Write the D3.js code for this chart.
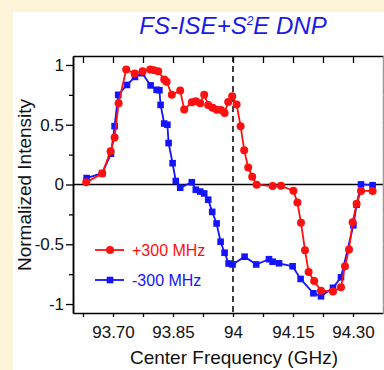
<!DOCTYPE html>
<html><head><meta charset="utf-8">
<script src="https://cdn.jsdelivr.net/npm/d3@7"></script>
<style>
html,body{margin:0;padding:0;background:#fdf3d9;}
svg{display:block;}
text{font-family:"Liberation Sans",Arial,Helvetica,sans-serif;}
</style></head><body>
<svg id="c" width="384" height="370"></svg>
<script>
// ---- data ----
const titleMain = "FS-ISE+S";
const titleSup = "2";
const titleEnd = "E DNP";
const xTitle = "Center Frequency (GHz)";
const yTitle = "Normalized Intensity";
const seriesNames = ["+300 MHz", "-300 MHz"];

const plusX = [93.633,93.673,93.694,93.704,93.714,93.733,93.754,93.774,93.793,93.803,93.813,93.828,93.834,93.847,93.868,93.878,93.897,93.907,93.918,93.928,93.938,93.949,93.959,93.970,93.979,93.988,93.998,94.009,94.019,94.028,94.038,94.048,94.059,94.099,94.120,94.151,94.161,94.170,94.180,94.189,94.203,94.220,94.250,94.270,94.280,94.290,94.299,94.309,94.320,94.349];
const plusY = [0.018,0.092,0.279,0.393,0.680,0.963,0.929,0.948,0.962,0.956,0.948,0.879,0.860,0.750,0.787,0.628,0.689,0.697,0.680,0.751,0.666,0.643,0.626,0.624,0.599,0.690,0.739,0.670,0.488,0.287,0.142,0.065,-0.002,-0.013,-0.011,-0.052,-0.151,-0.320,-0.550,-0.731,-0.807,-0.889,-0.895,-0.859,-0.684,-0.543,-0.315,-0.162,-0.054,-0.054];

const minusX = [93.634,93.673,93.695,93.704,93.713,93.735,93.755,93.773,93.794,93.809,93.816,93.819,93.828,93.836,93.839,93.849,93.857,93.868,93.897,93.907,93.918,93.928,93.938,93.948,93.959,93.969,93.979,93.989,93.999,94.029,94.058,94.090,94.099,94.115,94.149,94.169,94.201,94.220,94.250,94.270,94.301,94.309,94.320,94.349];
const minusY = [0.054,0.095,0.258,0.488,0.750,0.833,0.900,0.931,0.829,0.792,0.789,0.666,0.510,0.500,0.347,0.178,0.029,-0.027,0.019,-0.044,-0.059,-0.075,-0.127,-0.229,-0.326,-0.479,-0.571,-0.661,-0.669,-0.604,-0.669,-0.625,-0.646,-0.659,-0.684,-0.790,-0.910,-0.935,-0.864,-0.776,-0.341,-0.169,0.001,-0.006];

const xTickVals = [93.625,93.70,93.775,93.85,93.925,94.0,94.075,94.15,94.225,94.30];
const xTickLabels = {"93.7":"93.70","93.85":"93.85","94":"94","94.15":"94.15","94.3":"94.30"};
const yMajor = [-1,-0.5,0,0.5,1];
const yMajorLabels = ["-1","-0.5","0","0.5","1"];
const yMinor = [-0.75,-0.25,0.25,0.75];
const dashedAt = 94.0;

// ---- drawing ----
const RED = "#ff1010", BLUE = "#1414ff";
const svg = d3.select("#c");
svg.append("rect").attr("x",13).attr("y",12).attr("width",384-13).attr("height",370-12).attr("fill","#ffffff");

const L = 73, R = 383, T = 56, B = 313;
const x = d3.scaleLinear().domain([93.6, 94.375]).range([L, R]);
const y = d3.scaleLinear().domain([-1.075, 1.075]).range([B, T]);

// title
const tt = svg.append("text").attr("x", 233).attr("y", 34).attr("text-anchor","middle")
  .attr("font-size", 24).attr("font-style","italic").attr("fill","#1a1ae8");
tt.append("tspan").text(titleMain);
tt.append("tspan").text(titleSup).attr("font-size", 12).attr("dy", -9);
tt.append("tspan").text(titleEnd).attr("dy", 9);

// zero line
svg.append("line").attr("x1",L).attr("x2",R).attr("y1",y(0)).attr("y2",y(0))
  .attr("stroke","#000").attr("stroke-width",1.5);
// dashed line
svg.append("line").attr("x1",x(dashedAt)).attr("x2",x(dashedAt)).attr("y1",T).attr("y2",B)
  .attr("stroke","#000").attr("stroke-width",1.5).attr("stroke-dasharray","6,4");

// axes
const fmtX = d => xTickLabels[String(+d.toFixed(3))] || "";
const axB = svg.append("g").attr("transform",`translate(0,${B})`)
  .call(d3.axisBottom(x).tickValues(xTickVals).tickFormat(fmtX).tickSize(4).tickPadding(9).tickSizeOuter(0));
const axT = svg.append("g").attr("transform",`translate(0,${T})`)
  .call(d3.axisBottom(x).tickValues(xTickVals).tickFormat("").tickSize(7).tickSizeOuter(0));
const axL = svg.append("g").attr("transform",`translate(${L},0)`)
  .call(d3.axisLeft(y).tickValues(yMajor).tickFormat((d,i)=>yMajorLabels[i]).tickSize(7).tickPadding(2).tickSizeOuter(0));
const axLm = svg.append("g").attr("transform",`translate(${L},0)`)
  .call(d3.axisLeft(y).tickValues(yMinor).tickFormat("").tickSize(4).tickSizeOuter(0));
const axR = svg.append("g").attr("transform",`translate(${R},0)`)
  .call(d3.axisLeft(y).tickValues(yMajor.concat(yMinor)).tickFormat("").tickSize(-4).tickSizeOuter(0));
[axB,axT,axL,axLm,axR].forEach(g=>{
  g.selectAll("path").attr("stroke","#000").attr("stroke-width",1.5);
  g.selectAll("line").attr("stroke","#000").attr("stroke-width",1.3);
  g.selectAll("text").attr("font-size",17).attr("fill","#111").attr("font-family","'Liberation Sans',Arial,sans-serif");
});
axR.selectAll("path").attr("stroke","#999");
axR.selectAll("line").attr("stroke","#aaa");

// axis titles
svg.append("text").attr("x",234).attr("y",364).attr("text-anchor","middle").attr("font-size",19).attr("fill","#111").text(xTitle);
svg.append("text").attr("transform","translate(31,185) rotate(-90)").attr("text-anchor","middle").attr("font-size",19).attr("fill","#111").text(yTitle);

// series
const line = d3.line().x(d=>x(d[0])).y(d=>y(d[1]));
const plus = plusX.map((v,i)=>[v,plusY[i]]);
const minus = minusX.map((v,i)=>[v,minusY[i]]);

svg.append("path").datum(minus).attr("d",line).attr("fill","none").attr("stroke",BLUE).attr("stroke-width",1.8);
svg.selectAll(".sq").data(minus).enter().append("rect").attr("class","sq")
  .attr("x",d=>x(d[0])-3.3).attr("y",d=>y(d[1])-3.3).attr("width",6.6).attr("height",6.6).attr("fill",BLUE);
svg.append("path").datum(plus).attr("d",line).attr("fill","none").attr("stroke",RED).attr("stroke-width",1.8);
svg.selectAll(".ci").data(plus).enter().append("circle").attr("class","ci")
  .attr("cx",d=>x(d[0])).attr("cy",d=>y(d[1])).attr("r",4).attr("fill",RED);

// legend
const lg = svg.append("g");
const legY = [250, 280];
const legCol = [RED, BLUE];
legY.forEach((ly,i)=>{
  lg.append("line").attr("x1",95).attr("x2",124).attr("y1",ly).attr("y2",ly).attr("stroke",legCol[i]).attr("stroke-width",1.8);
  if(i===0) lg.append("circle").attr("cx",110).attr("cy",ly).attr("r",4).attr("fill",legCol[i]);
  else lg.append("rect").attr("x",106.7).attr("y",ly-3.3).attr("width",6.6).attr("height",6.6).attr("fill",legCol[i]);
  lg.append("text").attr("x",132).attr("y",ly+6).attr("font-size",16).attr("fill",legCol[i]).text(seriesNames[i]);
});
</script>
</body></html>
